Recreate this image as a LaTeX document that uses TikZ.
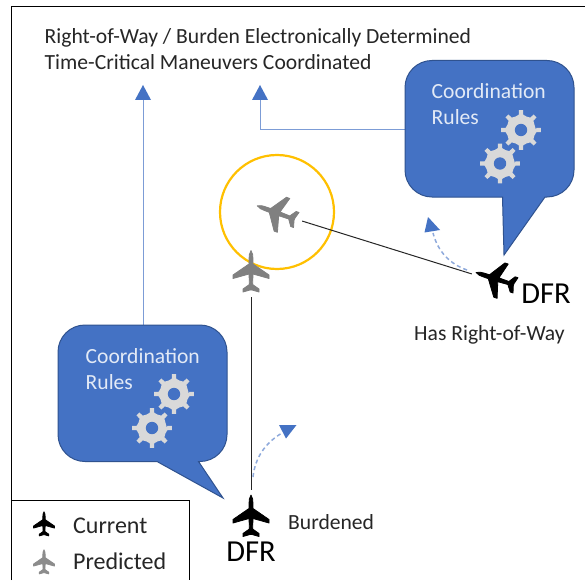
\documentclass[tikz,border=0pt]{standalone}
\usepackage{fontspec}
\setmainfont{Carlito}
\usetikzlibrary{arrows.meta,calc}
\definecolor{cblue}{HTML}{4472C4}
\definecolor{cedge}{HTML}{2F528F}
\definecolor{clight}{HTML}{8FAADC}
\definecolor{cgear}{HTML}{D9D9D9}
\definecolor{ctext}{HTML}{262626}
\definecolor{corange}{HTML}{FFC000}
\tikzset{
  x=1pt,y=-1pt,
  label text/.style={text=ctext,inner sep=0pt,anchor=base west,font=\fontsize{21.6}{21.6}\selectfont},
  small text/.style={text=ctext,inner sep=0pt,anchor=base west,font=\fontsize{21.6}{21.6}\selectfont},
  legend text/.style={text=ctext,inner sep=0pt,anchor=base west,font=\fontsize{24}{24}\selectfont},
  dfr text/.style={text=black,inner sep=0pt,anchor=base,font=\fontsize{30.5}{30.5}\selectfont},
  rule text/.style={text=white!85!cblue,inner sep=0pt,anchor=base west,font=\fontsize{21.6}{21.6}\selectfont},
  callout/.style={fill=cblue,draw=cedge,line width=1pt},
  flow/.style={draw=cblue!70!white,line width=1pt},
  track/.style={draw=black!85,line width=1pt},
  turn/.style={draw=clight,line width=1.5pt,dash pattern=on 4pt off 3pt},
  tip/.style={fill=cblue,draw=none},
  anchor point/.style={inner sep=0pt,minimum size=0pt,draw=none},
  plane/.pic={
    \path[fill=#1,draw=#1,line width=0.8pt,line join=round,yscale=-1]
      (0,21) .. controls (1.6,19) and (2,17) .. (2,7.5)
      -- (18,-3.5) -- (18,-7) -- (2,-2.5) -- (1.6,-13) -- (8,-17.5) -- (8,-20.5) -- (1,-18.5)
      -- (-1,-18.5) -- (-8,-20.5) -- (-8,-17.5) -- (-1.6,-13) -- (-2,-2.5) -- (-18,-7) -- (-18,-3.5) -- (-2,7.5)
      .. controls (-2,17) and (-1.6,19) .. (0,21) -- cycle;
  },
  gear/.pic={
    \path[fill=cgear]
      (0:15) \foreach \a in {0,45,...,315}{
        -- ({\a-8}:15.5) -- ({\a-6}:20) -- ({\a+6}:20) -- ({\a+8}:15.5)
        -- ({\a+22.5}:14.5)
      } -- cycle;
    \path[fill=cblue] (0,0) circle[radius=6.2];
  }
}
\begin{document}
\begin{tikzpicture}
\useasboundingbox (0,0) rectangle (585,580);
\fill[white] (0,0) rectangle (585,580);
% frame
\draw[black,line width=1pt] (11.5,580) -- (11.5,6.5) -- (585,6.5);
% legend
\draw[black,line width=1pt] (11.5,500.5) -- (189.5,500.5) -- (189.5,580);
% title
\node[label text] (t1) at (44.5,44) {Right-of-Way / Burden Electronically Determined};
\node[label text] (t2) at (44.5,70) {Time-Critical Maneuvers Coordinated};
% anchors
\node[anchor point] (tipA) at (143,100) {};
\node[anchor point] (tipB) at (260,100) {};
\node[anchor point] (calloutR) at (405,130) {};
\node[anchor point] (calloutL) at (143,325) {};
\node[anchor point] (predA) at (302,221) {};
\node[anchor point] (curA) at (472,274) {};
\node[anchor point] (predB) at (251,297) {};
\node[anchor point] (curB) at (251,490) {};
% connectors
\draw[flow] (calloutL) -- (tipA);
\draw[flow] (calloutR) -| (tipB);
\fill[tip] (143,85) -- (151,100) -- (135,100) -- cycle;
\fill[tip] (260,85) -- (268,100) -- (252,100) -- cycle;
% callouts
\draw[callout]
  (432,60.5) -- (547,60.5) arc[start angle=-90,end angle=0,radius=27] -- (574,170)
  arc[start angle=0,end angle=90,radius=27] -- (545,197) -- (504,255) -- (502.5,197) -- (432,197)
  arc[start angle=90,end angle=180,radius=27] -- (405,87.5) arc[start angle=180,end angle=270,radius=27] -- cycle;
\draw[callout]
  (85,325) -- (200,325) arc[start angle=-90,end angle=0,radius=27] -- (227,434.5)
  arc[start angle=0,end angle=90,radius=27] -- (198.5,461.5) -- (223,498) -- (157,461.5) -- (85,461.5)
  arc[start angle=90,end angle=180,radius=27] -- (58,352) arc[start angle=180,end angle=270,radius=27] -- cycle;
\node[rule text] (r1) at (431.5,99) {Coordination};
\node[rule text] (r2) at (431.5,124.5) {Rules};
\node[rule text] (l1) at (85.5,363.5) {Coordination};
\node[rule text] (l2) at (85.5,389) {Rules};
\pic at (521,130) {gear};
\pic at (500,163.5) {gear};
\pic at (174,394) {gear};
\pic at (152,428) {gear};
% circle
\node[draw=corange,line width=2.2pt,circle,minimum size=114pt,inner sep=0pt] (zone) at (277,212) {};
% tracks
\draw[track] (predA) -- (curA);
\draw[track] (predB) -- (curB);
% dashed turns
\draw[turn] (253,477) .. controls (255,458) and (265,443) .. (282,433);
\fill[tip] (296.5,425) -- (279,425) -- (286,438.5) -- cycle;
\draw[turn] (467,270) .. controls (450,264) and (438,252) .. (433,233);
\fill[tip] (428,217) -- (440,230) -- (424.5,232.5) -- cycle;
% planes
\pic[rotate=70] at (277,213) {plane={black!50}};
\pic at (251,271.5) {plane={black!50}};
\pic at (251,516) {plane={black}};
\pic[rotate=72] at (496,279) {plane={black}};
\pic[scale=0.58] at (44,524) {plane={black}};
\pic[scale=0.58] at (44,562) {plane={black!45}};
% labels
\node[dfr text] (d1) at (251,561) {DFR};
\node[dfr text] (d2) at (546,303) {DFR};
\node[small text] (b1) at (288,529) {Burdened};
\node[small text] (h1) at (414,340) {Has Right-of-Way};
\node[legend text] (c1) at (73,533) {Current};
\node[legend text] (c2) at (73,569) {Predicted};
\end{tikzpicture}
\end{document}
